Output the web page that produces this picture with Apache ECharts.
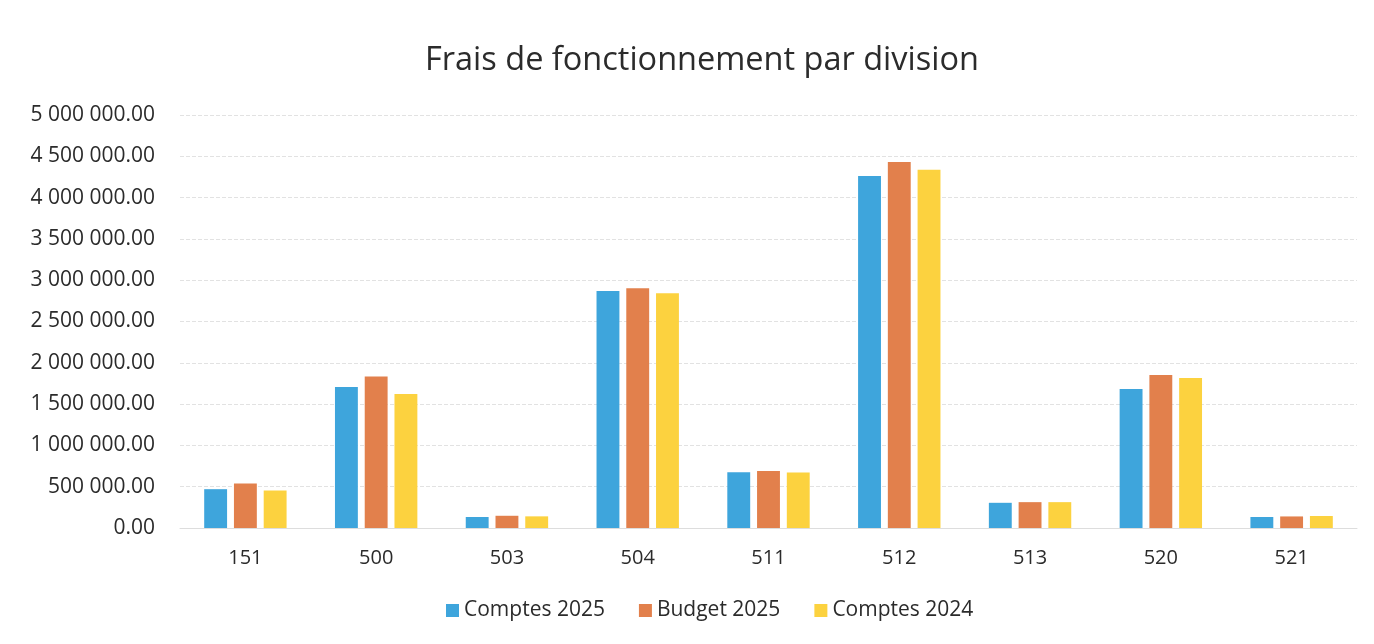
<!DOCTYPE html>
<html><head><meta charset="utf-8">
<script src="https://cdn.jsdelivr.net/npm/echarts@6/dist/echarts.min.js"></script>
<style>html,body{margin:0;padding:0;background:#fff}#c{width:1374px;height:644px}</style>
</head><body><div id="c"></div>
<script>
const categories = ['151','500','503','504','511','512','513','520','521'];
const comptes2025 = [470000, 1707000, 133000, 2868000, 675000, 4261000, 305000, 1683000, 133000];
const budget2025  = [538000, 1835000, 148000, 2904000, 690000, 4430000, 313000, 1852000, 140000];
const comptes2024 = [454000, 1623000, 141000, 2843000, 671000, 4337000, 313000, 1815000, 145000];
const seriesNames = ['Comptes 2025','Budget 2025','Comptes 2024'];
const colors = ['#3ea5dc','#e2804c','#fcd23f'];

function fmt(v){
  const s = Math.round(v).toString().replace(/\B(?=(\d{3})+(?!\d))/g,' ');
  return s + '.00';
}
const chart = echarts.init(document.getElementById('c'));
const font = 'Open Sans';
chart.setOption({
  animation:false,
  title:{text:'Frais de fonctionnement par division',left:420,top:39,
    textStyle:{fontFamily:font,fontSize:32.5,fontWeight:'normal',color:'#2b2b2b'}},
  legend:{bottom:18,left:441,itemWidth:13,itemHeight:13,itemGap:34,icon:'rect',
    textStyle:{fontFamily:font,fontSize:21,color:'#2b2b2b'},data:seriesNames},
  grid:{left:180,right:17,top:115,bottom:116,containLabel:false},
  xAxis:{type:'category',data:categories,
    axisLine:{lineStyle:{color:'#dddddd'}},axisTick:{show:false},
    axisLabel:{fontFamily:font,fontSize:20,color:'#2b2b2b',margin:20}},
  yAxis:{type:'value',min:0,max:5000000,interval:500000,
    axisLine:{show:false},axisTick:{show:false},
    splitLine:{lineStyle:{color:'#e2e2e2',type:'dashed'}},
    axisLabel:{fontFamily:font,fontSize:21,color:'#2b2b2b',margin:25,formatter:fmt}},
  series:[
    {name:seriesNames[0],type:'bar',data:comptes2025,itemStyle:{color:colors[0]},barGap:'30%',barCategoryGap:'37%'},
    {name:seriesNames[1],type:'bar',data:budget2025,itemStyle:{color:colors[1]}},
    {name:seriesNames[2],type:'bar',data:comptes2024,itemStyle:{color:colors[2]}}
  ]
});
</script></body></html>
